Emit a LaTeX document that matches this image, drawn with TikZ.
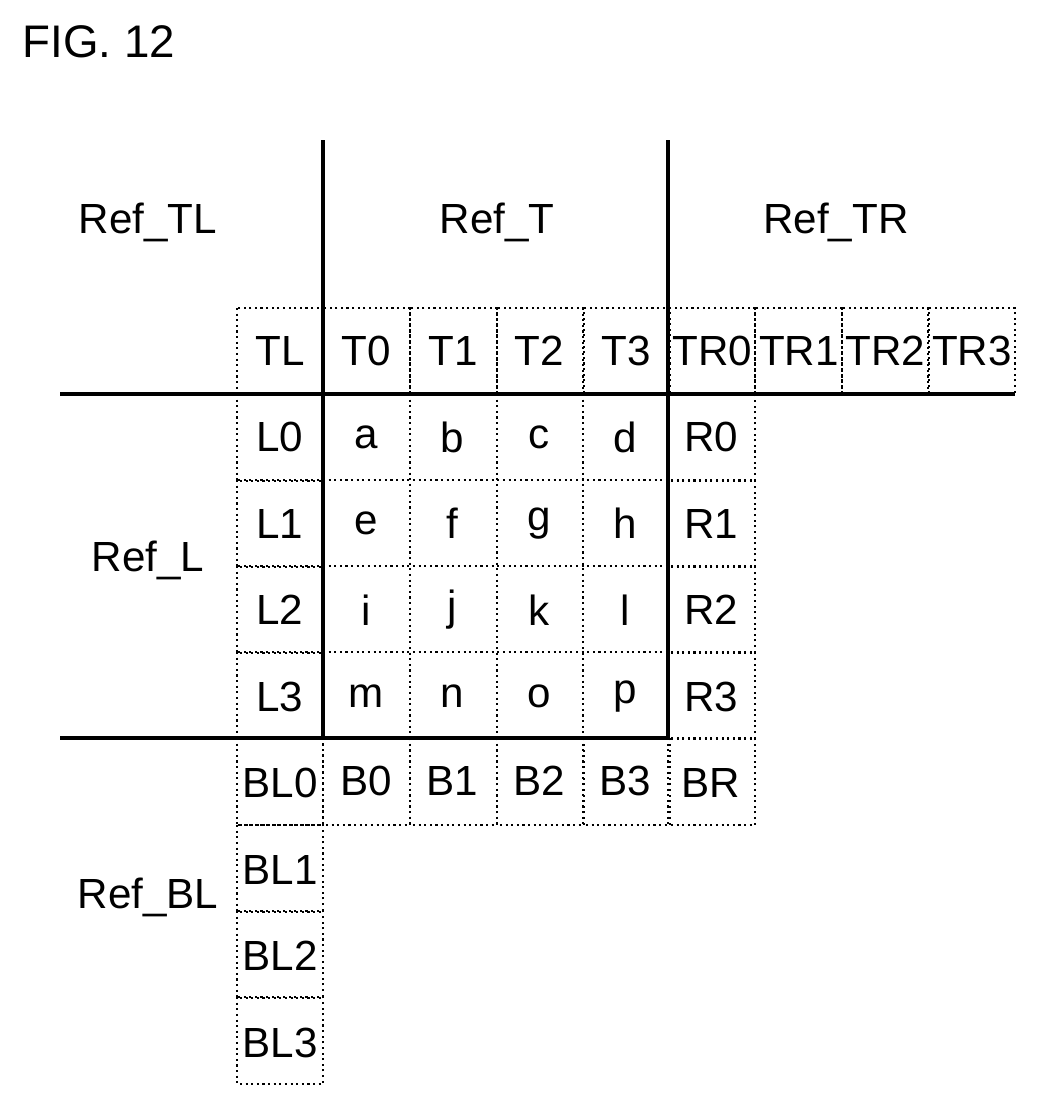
\documentclass[tikz,border=0pt]{standalone}
\usepackage{fontspec}
\setmainfont{Liberation Sans}
\begin{document}
\begin{tikzpicture}[x=0.02cm, y=-0.02cm, line width = 2pt,
  cell/.style = {font=\fontsize{24}{28}\selectfont},
  dot/.style = {dotted, line width = 1.2pt}]
\useasboundingbox (0,0) rectangle (1036,1106);
\node[anchor = north west, font=\fontsize{26}{30}\selectfont] (fig) at (15,18) {FIG. 12};
% dotted cells
\foreach \x in {237,323,410,497,583,668,755,842,928}
  \draw[dot] (\x,308) rectangle ++(87,86);
\foreach \y in {394,480,566,652,738,825,911,997}
  \draw[dot] (237,\y) rectangle ++(86,87);
\foreach \y in {394,480,566,652,738}
  \draw[dot] (668,\y) rectangle ++(87,87);
\foreach \x in {323,410,497,583}
  \draw[dot] (\x,738) rectangle ++(87,87);
\foreach \x in {410,497,583} \draw[dot] (\x,394) -- (\x,738);
\foreach \y in {480,566,652} \draw[dot] (323,\y) -- (668,\y);
% labels
\foreach \t [count=\i from 0] in {TL,T0,T1,T2,T3,TR0,TR1,TR2,TR3}
  \node[cell] (top\i) at (280+86.5*\i,351) {\t};
\foreach \t [count=\i from 0] in {L0,L1,L2,L3,BL0,BL1,BL2,BL3}
  \node[cell] (left\i) at (280,437+86.5*\i) {\t};
\foreach \t [count=\i from 0] in {R0,R1,R2,R3,BR}
  \node[cell] (right\i) at (711,437+86.5*\i) {\t};
\foreach \t [count=\i from 0] in {B0,B1,B2,B3}
  \node[cell] (bot\i) at (366+86.5*\i,781) {\t};
\foreach \a/\b/\c/\d [count=\j from 0] in {a/b/c/d,e/f/g/h,i/j/k/l,m/n/o/p}
  \foreach \t [count=\i from 0] in {\a,\b,\c,\d}
    \node[cell] at (366+86.5*\i,437+86.5*\j) {\t};
\node[cell] (reftl) at (148,222) {Ref\_TL};
\node[cell] (reft) at (497,222) {Ref\_T};
\node[cell] (reftr) at (836,222) {Ref\_TR};
\node[cell] (refl) at (148,560) {Ref\_L};
\node[cell] (refbl) at (148,897) {Ref\_BL};
% solid borders
\draw (60,394) -- (1015,394);
\draw (60,738) -- (668,738);
\draw (323,140) -- (323,738);
\draw (668,140) -- (668,738);
\end{tikzpicture}
\end{document}
